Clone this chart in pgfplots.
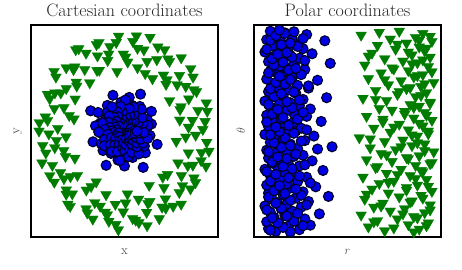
\documentclass[border=0pt]{standalone}
\usepackage{pgfplots}
\usepackage{pgfplotstable}
\pgfplotsset{compat=1.18}
\definecolor{mblue}{RGB}{0,0,228}
\definecolor{mgreen}{RGB}{0,125,0}
\definecolor{medge}{RGB}{0,0,40}

\pgfplotstableread{
r t
0.12 2
0.25 5
0.08 7
0.19 11
0.31 13
0.14 16
0.07 19
0.22 22
0.28 24
0.11 27
0.17 31
0.36 33
0.09 36
0.21 38
0.15 42
0.26 45
0.06 47
0.18 50
0.13 53
0.30 55
0.10 59
0.23 61
0.41 64
0.16 67
0.08 70
0.27 72
0.12 75
0.20 79
0.34 81
0.07 84
0.18 86
0.24 90
0.11 93
0.14 95
0.29 98
0.09 101
0.21 104
0.17 106
0.38 110
0.06 112
0.13 115
0.25 118
0.19 121
0.10 123
0.32 127
0.15 129
0.08 132
0.22 135
0.27 137
0.12 141
0.18 144
0.07 146
0.24 149
0.43 152
0.14 155
0.20 157
0.09 160
0.28 163
0.16 166
0.11 169
0.33 171
0.06 174
0.19 177
0.23 180
0.13 183
0.26 185
0.08 188
0.17 191
0.21 194
0.37 197
0.10 199
0.15 202
0.29 206
0.07 208
0.22 211
0.12 214
0.18 216
0.31 219
0.09 222
0.25 225
0.14 228
0.20 230
0.06 233
0.27 236
0.40 239
0.16 242
0.11 244
0.23 247
0.08 250
0.19 253
0.30 256
0.13 258
0.24 261
0.10 264
0.17 267
0.35 270
0.07 272
0.21 275
0.15 278
0.26 281
0.12 284
0.09 286
0.28 289
0.18 292
0.14 295
0.22 298
0.42 300
0.08 303
0.16 306
0.25 309
0.11 312
0.20 314
0.32 317
0.06 320
0.13 323
0.27 326
0.19 328
0.10 331
0.23 334
0.15 337
0.39 340
0.07 342
0.21 345
0.12 348
0.29 351
0.17 354
0.09 357
0.20 1
0.09 4
0.16 9
0.27 12
0.13 17
0.22 20
0.10 26
0.18 29
0.24 34
0.07 40
0.15 43
0.29 49
0.12 52
0.20 57
0.08 63
0.26 66
0.17 69
0.11 74
0.23 77
0.14 83
0.31 88
0.09 91
0.19 97
0.25 100
0.12 103
0.07 108
0.21 113
0.16 117
0.28 120
0.10 125
0.18 131
0.13 134
0.23 139
0.08 143
0.35 148
0.15 151
0.20 154
0.11 159
0.26 162
0.17 168
0.09 173
0.22 176
0.14 179
0.29 182
0.12 187
0.19 190
0.07 196
0.24 201
0.16 204
0.10 210
0.27 213
0.13 218
0.21 221
0.08 227
0.18 232
0.25 235
0.11 241
0.15 246
0.22 249
0.09 255
0.30 260
0.17 263
0.12 266
0.20 271
0.14 277
0.26 280
0.08 283
0.19 288
0.23 291
0.11 297
0.16 302
0.28 305
0.10 308
0.21 311
0.13 316
0.18 319
0.07 325
0.24 330
0.15 333
0.20 336
0.09 341
0.27 344
0.12 349
0.17 353
0.22 356
0.14 359
}\bluedata

\pgfplotstableread{
r t
0.72 3
0.91 6
0.63 10
0.85 14
0.96 17
0.68 21
0.79 24
0.88 28
0.59 31
0.94 35
0.75 38
0.83 42
0.66 45
0.97 49
0.71 52
0.87 56
0.61 59
0.80 63
0.92 66
0.74 70
0.98 73
0.65 77
0.84 80
0.90 84
0.69 87
0.77 91
0.95 94
0.60 98
0.86 101
0.73 105
0.93 108
0.81 112
0.67 115
0.89 119
0.97 122
0.76 126
0.62 129
0.84 133
0.91 136
0.70 140
0.99 143
0.78 147
0.64 150
0.87 154
0.94 157
0.72 161
0.82 164
0.58 168
0.90 171
0.96 175
0.75 178
0.85 182
0.66 185
0.93 189
0.80 192
0.71 196
0.98 199
0.88 203
0.62 206
0.83 210
0.94 213
0.76 217
0.69 220
0.91 224
0.86 227
0.97 231
0.73 234
0.60 238
0.89 241
0.79 245
0.95 248
0.67 252
0.84 255
0.92 259
0.74 262
0.99 266
0.81 269
0.63 273
0.88 276
0.93 280
0.70 283
0.85 287
0.77 290
0.96 294
0.61 297
0.90 301
0.82 304
0.72 308
0.97 311
0.87 315
0.65 318
0.94 322
0.78 325
0.91 329
0.68 332
0.84 336
0.98 339
0.75 343
0.89 346
0.59 350
0.93 353
0.80 357
0.88 1
0.77 8
0.95 12
0.66 19
0.90 26
0.82 33
0.97 40
0.70 47
0.86 54
0.93 61
0.62 68
0.84 75
0.96 82
0.74 89
0.89 96
0.79 103
0.92 110
0.68 117
0.98 124
0.85 131
0.73 138
0.94 145
0.81 152
0.90 159
0.64 166
0.87 173
0.96 180
0.77 187
0.91 194
0.71 201
0.95 208
0.83 215
0.88 222
0.97 229
0.67 236
0.92 243
0.80 250
0.86 257
0.94 264
0.72 271
0.90 278
0.98 285
0.76 292
0.87 299
0.93 306
0.63 313
0.85 320
0.95 327
0.79 334
0.91 341
0.97 348
0.69 355
}\greendata

\pgfplotsset{
  panel/.style={
    anchor=north west, scale only axis,
    width=187pt, height=212pt,
    ticks=none,
    axis line style={line width=1.6pt, black},
    title style={at={(axis description cs:0.5,1)}, anchor=south, yshift=-1pt,
      font=\fontsize{18}{19}\selectfont, text=black!85},
    xlabel style={at={(axis description cs:0.5,-0.071)}, anchor=center,
      font=\fontsize{13}{14}\selectfont, text=black!70},
    ylabel style={at={(axis description cs:-0.07,0.5)}, anchor=center,
      font=\fontsize{13}{14}\selectfont, text=black!70},
  },
  bluepts/.style={only marks, mark=*, mark size=5pt,
    mark options={fill=mblue, draw=medge, line width=1.1pt}},
  greenpts/.style={only marks, mark=triangle*, mark size=6.2pt,
    mark options={rotate=180, fill=mgreen, draw=mgreen, line width=0.3pt}},
}

\begin{document}
\begin{tikzpicture}
\path[use as bounding box] (0pt,0pt) rectangle (462pt,269pt);
\begin{axis}[panel, at={(31pt,244pt)},
  xmin=-1.05, xmax=1.05, ymin=-1.06, ymax=1.06,
  title={Cartesian coordinates}, xlabel={x}, ylabel={y}]
\addplot[greenpts, data cs=polar] table[x=t, y=r] {\greendata};
\addplot[bluepts, data cs=polar] table[x=t, y=r] {\bluedata};
\end{axis}
\begin{axis}[panel, at={(254pt,244pt)},
  xmin=0, xmax=1.03, ymin=-8, ymax=368,
  title={Polar coordinates}, xlabel={$r$}, ylabel={$\theta$}]
\addplot[greenpts] table[x=r, y=t] {\greendata};
\addplot[bluepts] table[x=r, y=t] {\bluedata};
\end{axis}
\end{tikzpicture}
\end{document}
